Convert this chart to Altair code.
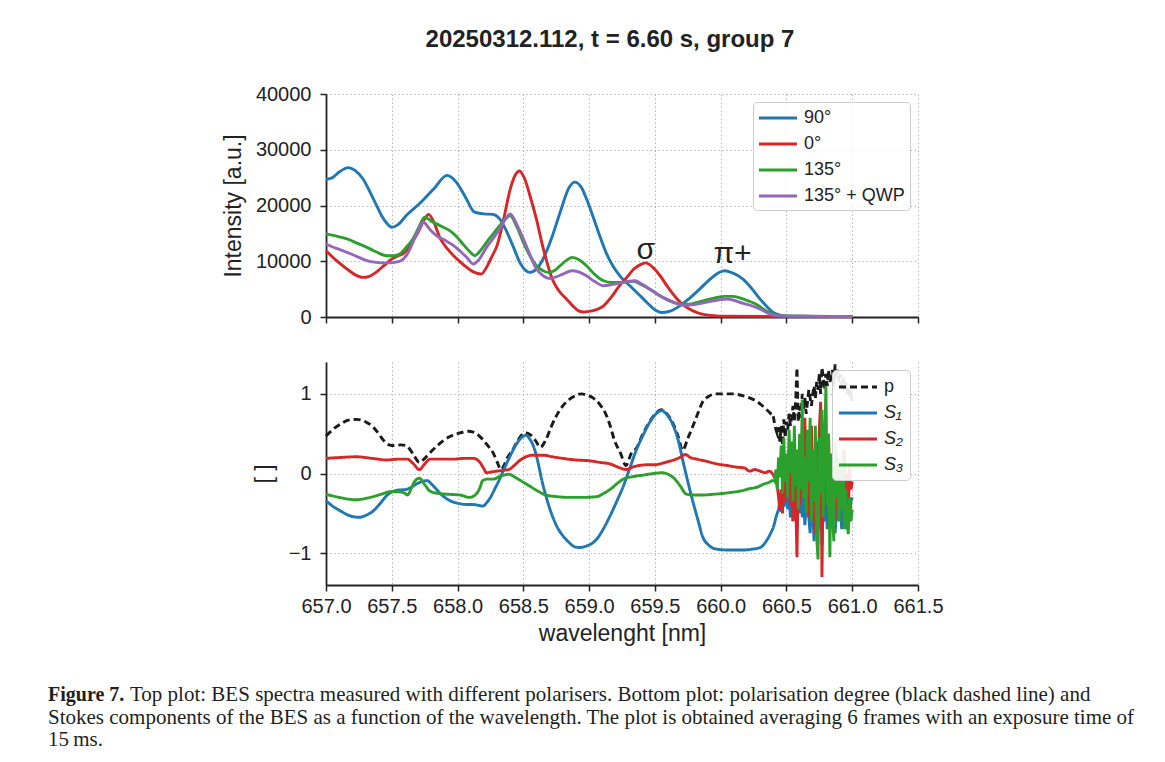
import altair as alt
import pandas as pd

# ---------------- top panel: spectra ----------------
top_names = ["90°", "0°", "135°", "135° + QWP"]
top_colors = ["#1f77b4", "#d62728", "#2ca02c", "#9467bd"]

wl_90 = [657.00, 657.05, 657.10, 657.17, 657.22, 657.28, 657.36, 657.44, 657.50, 657.55, 657.61, 657.71,
         657.82, 657.92, 657.99, 658.06, 658.13, 658.20, 658.27, 658.32, 658.37, 658.42, 658.48, 658.55,
         658.60, 658.65, 658.72, 658.78, 658.85, 658.89, 658.94, 658.98, 659.03, 659.08, 659.13, 659.18,
         659.24, 659.31, 659.38, 659.44, 659.50, 659.55, 659.61, 659.69, 659.76, 659.84, 659.92, 659.99,
         660.03, 660.09, 660.17, 660.24, 660.30, 660.35, 660.40, 660.45, 660.50, 660.60, 660.75, 661.00]
int_90 = [24700, 25000, 26000, 26800, 26300, 24800, 21200, 17500, 16100, 16600, 18200, 20300,
          23000, 25400, 24200, 21500, 18800, 18500, 18400, 17600, 15500, 12800, 9500, 8000,
          8600, 10400, 14500, 18800, 23300, 24200, 23300, 21200, 18000, 14600, 11500, 9200,
          7200, 5600, 4000, 2600, 1300, 800, 1000, 2000, 3300, 5000, 6800, 8000,
          8300, 7900, 6800, 5000, 3200, 1900, 800, 350, 200, 150, 100, 100]

wl_0 = [657.00, 657.08, 657.16, 657.22, 657.28, 657.33, 657.38, 657.44, 657.50, 657.55, 657.60, 657.65,
        657.70, 657.75, 657.78, 657.82, 657.87, 657.92, 657.97, 658.02, 658.07, 658.12, 658.18, 658.22,
        658.26, 658.30, 658.35, 658.40, 658.44, 658.47, 658.51, 658.55, 658.60, 658.64, 658.68, 658.72,
        658.77, 658.83, 658.88, 658.92, 658.96, 659.02, 659.11, 659.17, 659.23, 659.29, 659.34, 659.39,
        659.43, 659.48, 659.54, 659.60, 659.67, 659.73, 659.79, 659.86, 659.92, 660.00, 660.50, 661.00]
int_0 = [11900, 10100, 8600, 7600, 7100, 7300, 8000, 9200, 10400, 11000, 11600, 13300,
         15200, 17600, 18400, 17000, 14000, 12300, 11000, 9900, 8900, 8100, 7700, 8900,
         10800, 12800, 17500, 22900, 25500, 26200, 24800, 21800, 17500, 13400, 9800, 6800,
         4700, 3200, 1900, 1100, 900, 1100, 2000, 3600, 5600, 7200, 8600, 9400,
         9700, 9000, 7400, 5300, 3200, 1900, 1100, 500, 300, 150, 100, 80]

wl_135 = [657.00, 657.08, 657.16, 657.24, 657.31, 657.38, 657.46, 657.52, 657.56, 657.61, 657.66, 657.71,
          657.75, 657.80, 657.84, 657.90, 657.94, 657.99, 658.04, 658.09, 658.13, 658.17, 658.22, 658.27,
          658.32, 658.37, 658.40, 658.45, 658.50, 658.55, 658.60, 658.65, 658.69, 658.74, 658.78, 658.83,
          658.87, 658.92, 658.98, 659.04, 659.11, 659.17, 659.23, 659.29, 659.34, 659.39, 659.44, 659.50,
          659.56, 659.62, 659.69, 659.76, 659.82, 659.90, 659.97, 660.03, 660.09, 660.15, 660.21, 660.27,
          660.32, 660.37, 660.42, 660.48, 660.60, 661.00]
int_135 = [14900, 14500, 14000, 13200, 12500, 11700, 11000, 11000, 11300, 12500, 14000, 16300,
           17900, 17200, 16700, 16000, 15500, 14500, 13100, 11800, 11000, 11800, 13400, 14900,
           16400, 17700, 18200, 16200, 13400, 11000, 9200, 8300, 8000, 8400, 9200, 10200,
           10700, 10300, 9200, 7700, 6500, 6200, 6200, 6300, 6400, 5900, 5300, 4400,
           3500, 2800, 2300, 2300, 2600, 3100, 3500, 3700, 3700, 3400, 2900, 2300,
           1500, 800, 350, 200, 150, 100]

wl_qwp = [657.00, 657.08, 657.16, 657.24, 657.31, 657.38, 657.46, 657.52, 657.57, 657.61, 657.65, 657.70,
          657.74, 657.79, 657.84, 657.90, 657.97, 658.02, 658.07, 658.12, 658.16, 658.22, 658.27, 658.32,
          658.37, 658.40, 658.45, 658.50, 658.55, 658.60, 658.65, 658.70, 658.75, 658.80, 658.87, 658.92,
          658.98, 659.04, 659.11, 659.17, 659.23, 659.29, 659.35, 659.40, 659.46, 659.52, 659.59, 659.66,
          659.72, 659.78, 659.84, 659.92, 659.99, 660.05, 660.10, 660.15, 660.21, 660.27, 660.31, 660.35,
          660.40, 660.46, 660.60, 661.00]
int_qwp = [13100, 12300, 11600, 10800, 10100, 9800, 9700, 9800, 10100, 11000, 12800, 15500,
           17000, 15700, 14600, 13800, 12800, 11800, 10700, 9500, 10200, 12500, 14100, 15800,
           17800, 18500, 16600, 14000, 11200, 8600, 7400, 6900, 7200, 7700, 8300, 8100,
           7400, 6400, 5600, 5800, 6100, 6400, 6500, 5900, 5000, 4100, 3200, 2500,
           2100, 2200, 2400, 2800, 3100, 3200, 3000, 2600, 2200, 1700, 1300, 800,
           350, 200, 150, 100]

ann_wl = [659.43, 660.09]
ann_val = [12100, 11300]
ann_txt = ["σ", "π+"]

# ---------------- bottom panel: polarisation ----------------
bot_names = ["p", "S₁", "S₂", "S₃"]
bot_colors = ["#1a1a1a", "#1f77b4", "#d62728", "#2ca02c"]

wl_p = [657.00, 657.05, 657.11, 657.17, 657.23, 657.30, 657.36, 657.40, 657.44, 657.48, 657.52, 657.57,
        657.61, 657.66, 657.71, 657.75, 657.79, 657.84, 657.89, 657.95, 658.02, 658.08, 658.12, 658.16,
        658.19, 658.23, 658.27, 658.30, 658.33, 658.38, 658.42, 658.46, 658.51, 658.55, 658.59, 658.63,
        658.67, 658.71, 658.75, 658.80, 658.85, 658.90, 658.94, 658.99, 659.03, 659.08, 659.12, 659.16,
        659.19, 659.24, 659.28, 659.32, 659.36, 659.41, 659.46, 659.51, 659.55, 659.60, 659.64, 659.68,
        659.71, 659.75, 659.79, 659.83, 659.86, 659.91, 659.97, 660.05, 660.10, 660.16, 660.22, 660.27,
        660.31, 660.35, 660.40]
val_p = [0.47, 0.55, 0.62, 0.67, 0.68, 0.65, 0.58, 0.50, 0.41, 0.36, 0.35, 0.36,
         0.35, 0.25, 0.14, 0.19, 0.26, 0.34, 0.41, 0.47, 0.51, 0.53, 0.52, 0.48,
         0.43, 0.35, 0.26, 0.15, 0.05, 0.20, 0.30, 0.42, 0.51, 0.49, 0.42, 0.33,
         0.42, 0.58, 0.72, 0.85, 0.93, 0.98, 1.00, 0.98, 0.95, 0.87, 0.77, 0.60,
         0.43, 0.25, 0.10, 0.25, 0.32, 0.50, 0.65, 0.76, 0.80, 0.73, 0.62, 0.45,
         0.29, 0.44, 0.60, 0.77, 0.89, 0.97, 1.00, 1.00, 1.00, 0.98, 0.95, 0.91,
         0.86, 0.80, 0.72]

wl_s1 = [657.00, 657.05, 657.11, 657.18, 657.25, 657.31, 657.36, 657.41, 657.46, 657.50, 657.54, 657.61,
         657.65, 657.69, 657.73, 657.77, 657.80, 657.84, 657.88, 657.92, 657.97, 658.02, 658.08, 658.12,
         658.16, 658.19, 658.22, 658.25, 658.29, 658.32, 658.36, 658.40, 658.44, 658.48, 658.52, 658.55,
         658.58, 658.61, 658.64, 658.68, 658.72, 658.76, 658.80, 658.85, 658.89, 658.93, 658.98, 659.02,
         659.06, 659.11, 659.16, 659.21, 659.26, 659.31, 659.36, 659.41, 659.46, 659.51, 659.55, 659.59,
         659.64, 659.68, 659.71, 659.75, 659.79, 659.83, 659.86, 659.91, 659.97, 660.05, 660.12, 660.18,
         660.24, 660.30, 660.35, 660.40]
val_s1 = [-0.34, -0.41, -0.47, -0.53, -0.55, -0.52, -0.47, -0.38, -0.28, -0.23, -0.21, -0.20,
          -0.17, -0.13, -0.10, -0.09, -0.13, -0.20, -0.27, -0.32, -0.36, -0.38, -0.39, -0.39,
          -0.40, -0.41, -0.37, -0.30, -0.17, -0.07, 0.08, 0.22, 0.35, 0.44, 0.48, 0.43,
          0.33, 0.15, -0.08, -0.33, -0.53, -0.68, -0.78, -0.87, -0.92, -0.93, -0.91, -0.88,
          -0.82, -0.69, -0.53, -0.35, -0.16, 0.07, 0.30, 0.48, 0.64, 0.75, 0.79, 0.74,
          0.60, 0.40, 0.18, -0.10, -0.36, -0.60, -0.78, -0.90, -0.95, -0.96, -0.96, -0.96,
          -0.95, -0.93, -0.84, -0.68]

wl_s2 = [657.00, 657.10, 657.23, 657.35, 657.46, 657.55, 657.62, 657.66, 657.71, 657.75, 657.79, 657.88,
         657.97, 658.05, 658.12, 658.17, 658.20, 658.22, 658.26, 658.30, 658.35, 658.39, 658.43, 658.47,
         658.52, 658.57, 658.65, 658.72, 658.80, 658.90, 659.00, 659.08, 659.16, 659.22, 659.28, 659.33,
         659.38, 659.45, 659.50, 659.58, 659.66, 659.70, 659.73, 659.77, 659.82, 659.90, 659.97, 660.05,
         660.12, 660.18, 660.22, 660.26, 660.30, 660.34, 660.37, 660.40]
val_s2 = [0.19, 0.20, 0.21, 0.19, 0.17, 0.18, 0.18, 0.13, 0.05, 0.12, 0.18, 0.18,
          0.18, 0.19, 0.19, 0.14, 0.06, 0.01, 0.02, 0.03, 0.04, 0.05, 0.10, 0.16,
          0.21, 0.23, 0.23, 0.21, 0.19, 0.17, 0.16, 0.14, 0.12, 0.08, 0.05, 0.08,
          0.10, 0.11, 0.11, 0.14, 0.18, 0.21, 0.24, 0.20, 0.18, 0.15, 0.12, 0.10,
          0.08, 0.07, 0.03, 0.05, 0.03, 0.01, 0.03, -0.02]

wl_s3 = [657.00, 657.10, 657.23, 657.31, 657.38, 657.44, 657.48, 657.54, 657.59, 657.62, 657.65, 657.67,
         657.71, 657.75, 657.79, 657.85, 657.92, 658.02, 658.09, 658.14, 658.17, 658.19, 658.23, 658.27,
         658.33, 658.39, 658.44, 658.50, 658.55, 658.61, 658.67, 658.75, 658.85, 658.95, 659.06, 659.11,
         659.16, 659.21, 659.26, 659.33, 659.41, 659.49, 659.56, 659.60, 659.64, 659.69, 659.74, 659.80,
         659.86, 659.95, 660.07, 660.15, 660.22, 660.28, 660.33, 660.37, 660.40]
val_s3 = [-0.26, -0.30, -0.33, -0.31, -0.28, -0.25, -0.23, -0.23, -0.24, -0.27, -0.18, -0.11,
          -0.06, -0.14, -0.22, -0.25, -0.26, -0.27, -0.30, -0.26, -0.18, -0.09, -0.07, -0.07,
          -0.03, -0.01, -0.05, -0.11, -0.16, -0.22, -0.27, -0.29, -0.30, -0.30, -0.29, -0.25,
          -0.20, -0.13, -0.07, -0.04, -0.02, 0.00, 0.01, -0.01, -0.05, -0.15, -0.26, -0.27,
          -0.27, -0.26, -0.24, -0.22, -0.19, -0.17, -0.13, -0.11, -0.08]

# noisy tail (660.40 .. 661.00, 0.01 nm steps)
tail_wl = [660.40, 660.41, 660.42, 660.43, 660.44, 660.45, 660.46, 660.47, 660.48, 660.49, 660.50,
           660.51, 660.52, 660.53, 660.54, 660.55, 660.56, 660.57, 660.58, 660.59, 660.60,
           660.61, 660.62, 660.63, 660.64, 660.65, 660.66, 660.67, 660.68, 660.69, 660.70,
           660.71, 660.72, 660.73, 660.74, 660.75, 660.76, 660.77, 660.78, 660.79, 660.80,
           660.81, 660.82, 660.83, 660.84, 660.85, 660.86, 660.87, 660.88, 660.89, 660.90,
           660.91, 660.92, 660.93, 660.94, 660.95, 660.96, 660.97, 660.98, 660.99, 661.00]
tail_p = [0.72, 0.62, 0.55, 0.50, 0.58, 0.40, 0.60, 0.35, 0.68, 0.45, 0.65,
          0.55, 0.75, 0.60, 0.70, 0.85, 0.65, 0.90, 1.33, 0.65, 0.85,
          0.70, 1.00, 0.80, 0.95, 0.75, 0.90, 1.05, 0.95, 0.85, 1.00,
          1.10, 0.95, 1.15, 1.05, 1.25, 1.00, 1.33, 1.20, 1.05, 1.25,
          1.10, 1.30, 1.15, 1.20, 1.30, 1.10, 1.37, 1.20, 1.30, 1.15,
          1.25, 1.10, 1.20, 1.05, 1.15, 1.00, 1.10, 0.95, 1.05, 0.90]
tail_s1 = [-0.68, -0.62, -0.55, -0.50, -0.45, -0.35, -0.48, -0.30, -0.42, -0.20, -0.35,
           -0.45, -0.25, -0.55, -0.30, -0.60, -0.20, -0.45, -0.70, -0.35, -0.50,
           -0.15, -0.55, -0.30, -0.65, -0.40, -0.20, -0.55, -0.75, -0.30, -0.50,
           -0.85, -0.40, -0.60, -0.20, -0.70, -0.35, -0.90, -0.45, -0.60, -0.25,
           -0.70, -0.40, -0.55, -0.20, -0.65, -0.35, -0.75, -0.50, -0.30, -0.60,
           -0.40, -0.70, -0.45, -0.65, -0.55, -0.70, -0.40, -0.60, -0.35, -0.30]
tail_s2 = [-0.02, -0.05, 0.02, -0.15, -0.30, -0.45, -0.20, -0.50, -0.10, -0.35, 0.10,
           -0.25, 0.30, -0.40, 0.15, -0.60, 0.20, -0.30, -1.05, 0.05, -0.40,
           0.35, -0.20, 0.10, 0.70, -0.30, 0.45, -0.55, 0.20, 0.60, -0.40,
           0.25, -0.75, 0.40, -0.20, 0.55, 0.90, -1.30, 0.10, -0.50, 0.35,
           -0.15, 0.50, -0.45, 0.20, -0.30, 0.10, -0.60, 0.25, -0.20, 0.05,
           -0.40, 0.15, -0.25, 0.30, -0.35, 0.00, -0.50, 0.10, -0.20, -0.10]
tail_s3 = [-0.08, -0.10, 0.05, -0.20, 0.20, -0.05, 0.35, -0.25, 0.45, -0.10, 0.25,
           -0.30, 0.55, 0.00, 0.40, -0.35, 0.60, -0.15, 0.30, -0.45, 0.50,
           -0.20, 0.93, -0.30, 0.20, -0.50, 0.55, -0.10, 0.70, -0.60, 0.30,
           -0.35, 0.60, -0.80, -1.08, 0.45, -0.25, 0.80, -0.55, 0.35, 1.10,
           -0.40, 0.50, -1.05, 0.25, -0.50, -0.85, 0.40, -0.30, 0.20, -0.60,
           0.10, -0.45, 0.30, -0.70, -0.20, -0.55, -0.76, -0.30, -0.60, -0.45]

x_ticks = [657.0, 657.5, 658.0, 658.5, 659.0, 659.5, 660.0, 660.5, 661.0, 661.5]

caption_bold = "Figure 7."
caption_lines = [
    "Top plot: BES spectra measured with different polarisers. Bottom plot: polarisation degree (black dashed line) and",
    "Stokes components of the BES as a function of the wavelength. The plot is obtained averaging 6 frames with an exposure time of",
    "15\u2009ms.",
]

# ---------------- chart construction ----------------
FONT = "Liberation Sans"
W, H = 592, 223
LW = 2.9
xscale = alt.Scale(domain=[657.0, 661.5], nice=False, zero=False)
LEG_SYMBOL = "M-2,0H2"   # wide horizontal line symbol

top_xaxis = alt.Axis(values=x_ticks, labels=False, title=None, grid=True)
top_yaxis = alt.Axis(values=[0, 10000, 20000, 30000, 40000], format="d", title="Intensity [a.u.]",
                     titlePadding=10, labelPadding=9, labelFlush=False)
top_color_scale = alt.Scale(domain=top_names, range=top_colors)
top_legend = alt.Legend(title=None, orient="top-right", offset=8, symbolType=LEG_SYMBOL,
                        symbolSize=361, symbolStrokeWidth=3, symbolOffset=9,
                        labelFontSize=18, labelFont=FONT,
                        labelColor="#222", fillColor="rgba(255,255,255,0.85)", strokeColor="#cccccc",
                        cornerRadius=4, padding=5, rowPadding=6, labelOffset=15)

top_layers = []
for name, wl, vals in [(top_names[0], wl_90, int_90), (top_names[1], wl_0, int_0),
                       (top_names[2], wl_135, int_135), (top_names[3], wl_qwp, int_qwp)]:
    df = pd.DataFrame({"wl": wl, "val": vals, "series": name})
    top_layers.append(
        alt.Chart(df).mark_line(strokeWidth=LW, interpolate="monotone").encode(
            x=alt.X("wl:Q", scale=xscale, axis=top_xaxis),
            y=alt.Y("val:Q", scale=alt.Scale(domain=[0, 40000], nice=False), axis=top_yaxis),
            color=alt.Color("series:N", scale=top_color_scale, legend=top_legend),
        )
    )
ann_df = pd.DataFrame({"wl": ann_wl, "val": ann_val, "txt": ann_txt})
top_layers.append(
    alt.Chart(ann_df).mark_text(fontSize=30, font=FONT, color="#222").encode(
        x=alt.X("wl:Q", scale=xscale, axis=top_xaxis),
        y=alt.Y("val:Q", scale=alt.Scale(domain=[0, 40000], nice=False), axis=top_yaxis),
        text="txt:N",
    )
)
top = alt.layer(*top_layers).properties(width=W, height=H)

bot_xaxis = alt.Axis(values=x_ticks, format=".1f", title="wavelenght [nm]", grid=True,
                     labelPadding=5, titlePadding=6, labelOverlap=False, labelFlush=False)
bot_yaxis = alt.Axis(values=[-1, 0, 1], format="d", title="[ ]", titlePadding=12, labelPadding=9,
                     labelFlush=False)
bot_color_scale = alt.Scale(domain=bot_names, range=bot_colors)
bot_dash_scale = alt.Scale(domain=bot_names, range=[[7, 4], [1, 0], [1, 0], [1, 0]])
bot_legend = alt.Legend(title=None, orient="top-right", offset=8, symbolType=LEG_SYMBOL,
                        symbolSize=361, symbolStrokeWidth=3, symbolOffset=9,
                        labelFontSize=18, labelFont=FONT,
                        labelColor="#222",
                        labelFontStyle=alt.ExprRef(expr="datum.label == 'p' ? 'normal' : 'italic'"),
                        fillColor="rgba(255,255,255,0.9)", strokeColor="#cccccc",
                        cornerRadius=4, padding=6, rowPadding=6, labelOffset=15)

bot_layers = []
series_bot = [(bot_names[0], wl_p, val_p, tail_p), (bot_names[1], wl_s1, val_s1, tail_s1),
              (bot_names[2], wl_s2, val_s2, tail_s2), (bot_names[3], wl_s3, val_s3, tail_s3)]
for interp, use_tail in [("monotone", False), ("linear", True)]:
    for name, wl, vals, tail in series_bot:
        if use_tail:
            df = pd.DataFrame({"wl": tail_wl, "val": tail, "series": name})
        else:
            df = pd.DataFrame({"wl": wl, "val": vals, "series": name})
        bot_layers.append(
            alt.Chart(df).mark_line(strokeWidth=LW, interpolate=interp).encode(
                x=alt.X("wl:Q", scale=xscale, axis=bot_xaxis),
                y=alt.Y("val:Q", scale=alt.Scale(domain=[-1.4, 1.4], nice=False), axis=bot_yaxis),
                color=alt.Color("series:N", scale=bot_color_scale, legend=bot_legend),
                strokeDash=alt.StrokeDash("series:N", scale=bot_dash_scale, legend=bot_legend),
            )
        )
bottom = alt.layer(*bot_layers).properties(width=W, height=H)

# caption
CAP_FS = 21
cap_df0 = pd.DataFrame({"line": [0], "txt": [caption_bold]})
cap_df1 = pd.DataFrame({"line": [0], "txt": [caption_lines[0]]})
cap_df2 = pd.DataFrame({"line": [1, 2], "txt": caption_lines[1:]})
cap_y = alt.Y("line:Q", scale=alt.Scale(domain=[-3.16, 2], reverse=True, nice=False), axis=None)
CAP_DX = -278
cap = alt.layer(
    alt.Chart(cap_df0).mark_text(align="left", baseline="alphabetic", font="Liberation Serif",
                                 fontSize=20, fontWeight="bold", color="#231f20", dx=CAP_DX).encode(
        x=alt.value(0), y=cap_y, text="txt:N"),
    alt.Chart(cap_df1).mark_text(align="left", baseline="alphabetic", font="Liberation Serif",
                                 fontSize=CAP_FS, color="#231f20", dx=CAP_DX + 82).encode(
        x=alt.value(0), y=cap_y, text="txt:N"),
    alt.Chart(cap_df2).mark_text(align="left", baseline="alphabetic", font="Liberation Serif",
                                 fontSize=CAP_FS, color="#231f20", dx=CAP_DX).encode(
        x=alt.value(0), y=cap_y, text="txt:N"),
).properties(width=W, height=116)

chart = alt.vconcat(top, bottom, cap, spacing=45, bounds="flush").properties(
    title=alt.TitleParams("20250312.112, t = 6.60 s, group 7", font=FONT, fontSize=24,
                          fontWeight="bold", color="#222", anchor="middle", frame="group",
                          dx=-12, offset=32),
    padding={"left": 48, "top": 28, "right": 5, "bottom": 5},
    background="white",
).resolve_scale(color="independent", strokeDash="independent").configure_view(
    strokeWidth=0
).configure_axis(
    domainColor="#222", domainWidth=1.8, tickColor="#222", tickWidth=1.5, tickSize=6,
    gridColor="#b0b0b0", gridDash=[1.5, 2.5], gridWidth=0.9,
    labelFont=FONT, labelFontSize=20, labelColor="#222",
    titleFont=FONT, titleFontSize=23, titleFontWeight="normal", titleColor="#222",
)

chart.save("out.html", embed_options={"renderer": "svg", "actions": False})
